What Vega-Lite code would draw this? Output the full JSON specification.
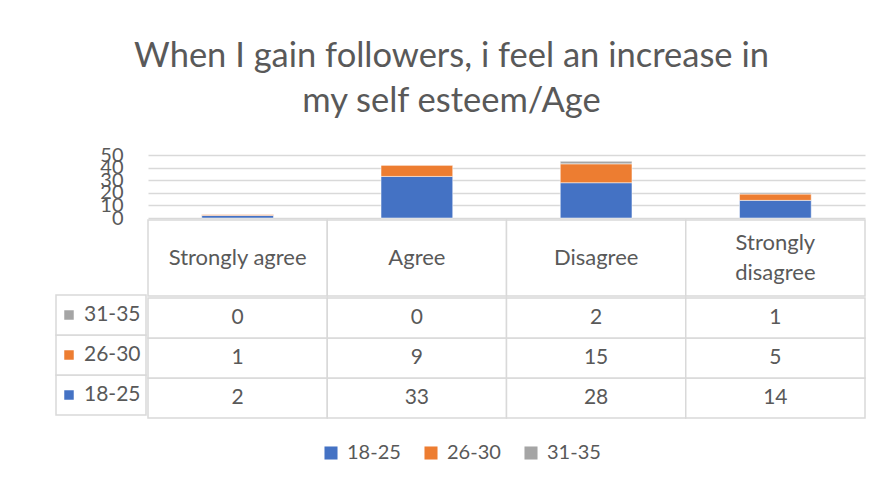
{
  "$schema": "https://vega.github.io/schema/vega-lite/v6.json",
  "background": "white",
  "padding": {"left": 55, "top": 38, "right": 16, "bottom": 10},
  "title": {
    "text": ["When I gain followers, i feel an increase in", "my self esteem/Age"],
    "font": "Lato",
    "fontSize": 34.5,
    "fontWeight": "normal",
    "color": "#595959",
    "lineHeight": 45,
    "anchor": "middle",
    "dx": -9,
    "offset": 26
  },
  "datasets": {
    "d": [
      {"cat": "Strongly agree", "age": "18-25", "n": 2},
      {"cat": "Strongly agree", "age": "26-30", "n": 1},
      {"cat": "Strongly agree", "age": "31-35", "n": 0},
      {"cat": "Agree", "age": "18-25", "n": 33},
      {"cat": "Agree", "age": "26-30", "n": 9},
      {"cat": "Agree", "age": "31-35", "n": 0},
      {"cat": "Disagree", "age": "18-25", "n": 28},
      {"cat": "Disagree", "age": "26-30", "n": 15},
      {"cat": "Disagree", "age": "31-35", "n": 2},
      {"cat": "Strongly disagree", "age": "18-25", "n": 14},
      {"cat": "Strongly disagree", "age": "26-30", "n": 5},
      {"cat": "Strongly disagree", "age": "31-35", "n": 1}
    ],
    "cats": [
      {"cat": "Strongly agree", "label": "Strongly agree", "row": "header", "lines": 1},
      {"cat": "Agree", "label": "Agree", "row": "header", "lines": 1},
      {"cat": "Disagree", "label": "Disagree", "row": "header", "lines": 1},
      {"cat": "Strongly disagree", "label": "Strongly\ndisagree", "row": "header", "lines": 2}
    ]
  },
  "spacing": 0,
  "hconcat": [
    {
      "spacing": 66,
      "vconcat": [
        {
          "width": 90,
          "height": 63,
          "data": {"name": "d"},
          "mark": {"type": "point", "opacity": 0},
          "encoding": {
            "y": {
              "field": "n", "type": "quantitative",
              "scale": {"domain": [0, 50], "nice": false},
              "axis": {
                "values": [0, 10, 20, 30, 40, 50],
                "offset": -90,
                "grid": false, "domain": false, "ticks": false,
                "labelPadding": 23, "labelFontSize": 20, "labelFont": "Lato",
                "labelColor": "#595959", "labelOverlap": false,
                "title": null, "minExtent": 0
              }
            }
          }
        },
        {
          "width": 90,
          "height": 120,
          "data": {"name": "d"},
          "transform": [{"filter": "datum.cat === 'Strongly agree'"}],
          "encoding": {
            "y": {
              "field": "age", "type": "nominal",
              "sort": ["31-35", "26-30", "18-25"],
              "scale": {"paddingInner": 0, "paddingOuter": 0},
              "axis": null
            }
          },
          "layer": [
            {"mark": {"type": "rect", "fill": "white", "stroke": "#D9D9D9", "strokeWidth": 1.5}},
            {
              "mark": {"type": "point", "shape": "square", "filled": true, "size": 90, "opacity": 1},
              "encoding": {
                "xOffset": {"value": -32},
                "color": {
                  "field": "age", "type": "nominal",
                  "scale": {"domain": ["18-25", "26-30", "31-35"], "range": ["#4472C4", "#ED7D31", "#A5A5A5"]}
                }
              }
            },
            {
              "mark": {"type": "text", "font": "Lato", "fontSize": 21, "color": "#595959", "align": "left", "dx": -17},
              "encoding": {"text": {"field": "age"}}
            }
          ]
        }
      ],
      "resolve": {"scale": {"y": "independent"}}
    },
    {
      "spacing": 0,
      "vconcat": [
        {
          "width": 717,
          "height": 63,
          "data": {"name": "d"},
          "mark": {"type": "bar", "stroke": "white", "strokeWidth": 0.5},
          "encoding": {
            "x": {
              "field": "cat", "type": "nominal",
              "sort": ["Strongly agree", "Agree", "Disagree", "Strongly disagree"],
              "scale": {"paddingInner": 0.6, "paddingOuter": 0.3},
              "axis": null
            },
            "y": {
              "field": "n", "type": "quantitative", "stack": "zero",
              "scale": {"domain": [0, 50], "nice": false},
              "axis": {
                "values": [0, 10, 20, 30, 40, 50],
                "grid": true, "gridColor": "#D9D9D9", "gridWidth": 1.5,
                "domain": false, "ticks": false, "labels": false,
                "title": null, "minExtent": 0
              }
            },
            "color": {
              "field": "age", "type": "nominal",
              "scale": {"domain": ["18-25", "26-30", "31-35"], "range": ["#4472C4", "#ED7D31", "#A5A5A5"]},
              "legend": {
                "orient": "bottom", "direction": "horizontal", "title": null,
                "symbolType": "square", "symbolSize": 170, "symbolStrokeWidth": 0,
                "labelFontSize": 20, "labelFont": "Lato", "labelColor": "#595959",
                "labelOffset": 6, "columnPadding": 20, "offset": 24
              }
            },
            "order": {"field": "age", "type": "nominal", "sort": "ascending"}
          }
        },
        {
          "width": 717,
          "height": 76,
          "data": {"name": "cats"},
          "encoding": {
            "x": {
              "field": "cat", "type": "nominal",
              "sort": ["Strongly agree", "Agree", "Disagree", "Strongly disagree"],
              "scale": {"paddingInner": 0, "paddingOuter": 0},
              "axis": null
            },
            "y": {
              "field": "row", "type": "nominal",
              "scale": {"paddingInner": 0, "paddingOuter": 0},
              "axis": null
            }
          },
          "layer": [
            {"mark": {"type": "rect", "fill": "white", "stroke": "#D9D9D9", "strokeWidth": 1.5}},
            {
              "transform": [{"filter": "datum.lines === 1"}],
              "mark": {"type": "text", "font": "Lato", "fontSize": 22, "color": "#595959"},
              "encoding": {"text": {"field": "label"}}
            },
            {
              "transform": [{"filter": "datum.lines === 2"}],
              "mark": {"type": "text", "font": "Lato", "fontSize": 22, "color": "#595959", "lineBreak": "\n", "lineHeight": 30, "dy": -15},
              "encoding": {"text": {"field": "label"}}
            }
          ]
        },
        {
          "width": 717,
          "height": 120,
          "data": {"name": "d"},
          "encoding": {
            "x": {
              "field": "cat", "type": "nominal",
              "sort": ["Strongly agree", "Agree", "Disagree", "Strongly disagree"],
              "scale": {"paddingInner": 0, "paddingOuter": 0},
              "axis": null
            },
            "y": {
              "field": "age", "type": "nominal",
              "sort": ["31-35", "26-30", "18-25"],
              "scale": {"paddingInner": 0, "paddingOuter": 0},
              "axis": null
            }
          },
          "layer": [
            {"mark": {"type": "rect", "fill": "white", "stroke": "#D9D9D9", "strokeWidth": 1.5}},
            {
              "mark": {"type": "text", "font": "Lato", "fontSize": 21, "color": "#595959"},
              "encoding": {"text": {"field": "n", "type": "quantitative"}}
            }
          ]
        }
      ],
      "resolve": {"scale": {"x": "independent", "y": "independent"}}
    }
  ],
  "resolve": {"scale": {"x": "independent", "y": "independent"}},
  "config": {
    "view": {"stroke": null},
    "legend": {"layout": {"bottom": {"anchor": "middle"}}}
  }
}
